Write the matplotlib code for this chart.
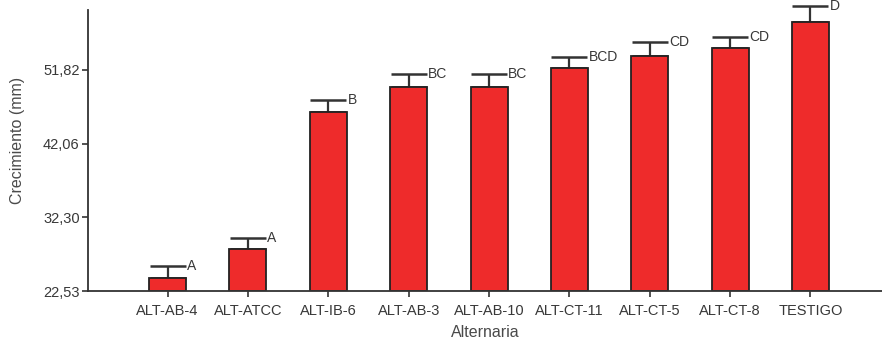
import numpy as np
import matplotlib
matplotlib.use('Agg')
from matplotlib import pyplot as plt

# Data
categories = ['ALT-AB-4', 'ALT-ATCC', 'ALT-IB-6', 'ALT-AB-3', 'ALT-AB-10',
              'ALT-CT-11', 'ALT-CT-5', 'ALT-CT-8', 'TESTIGO']
means = [24.21, 28.06, 46.29, 49.53, 49.53, 52.05, 53.68, 54.70, 58.14]
errors = [1.67, 1.45, 1.55, 1.76, 1.76, 1.53, 1.81, 1.53, 2.10]
groups = ['A', 'A', 'B', 'BC', 'BC', 'BCD', 'CD', 'CD', 'D']
yticks = [22.53, 32.30, 42.06, 51.82]
ytick_labels = ['22,53', '32,30', '42,06', '51,82']

plt.rcParams['font.family'] = ['Liberation Sans', 'DejaVu Sans']
text_color = '#383838'

fig = plt.figure(figsize=(8.82, 3.42), dpi=100)
ax = fig.add_axes([0.0998, 0.149, 0.9002, 0.822])

x = np.arange(len(categories))
base = yticks[0]
heights = [m - base for m in means]
ax.bar(x, heights, bottom=base, width=0.46, color='#ee2b2b',
       edgecolor='#222222', linewidth=1.3, zorder=2)

# only the upper half of the error bar
ax.errorbar(x, means, yerr=[np.zeros(len(means)), errors], fmt='none',
            ecolor='#333333', elinewidth=1.6, capsize=13, capthick=1.8,
            zorder=1, clip_on=False)

for xi, m, e, g in zip(x, means, errors, groups):
    ax.text(xi + 0.24, m + e, g, ha='left', va='center', fontsize=10,
            color=text_color, clip_on=False)

ax.set_xlim(-0.99, 8.89)
ax.set_ylim(base, 59.77)
ax.set_xticks(x)
ax.set_xticklabels(categories, fontsize=10.5)
ax.set_yticks(yticks)
ax.set_yticklabels(ytick_labels, fontsize=10.5)
ax.tick_params(axis='both', colors='#333333', length=4,
               width=1.2, labelcolor=text_color)
ax.tick_params(axis='x', pad=5)
ax.tick_params(axis='y', pad=2)

for side in ['top', 'right']:
    ax.spines[side].set_visible(False)
for side in ['left', 'bottom']:
    ax.spines[side].set_color('#333333')
    ax.spines[side].set_linewidth(1.3)

ax.set_xlabel('Alternaria', fontsize=11.5, color='#4a4a4a')
ax.xaxis.set_label_coords(0.5, -0.12)
ax.set_ylabel('Crecimiento (mm)', fontsize=11.5, color='#4a4a4a')
ax.yaxis.set_label_coords(-0.08, 0.534)

plt.savefig('out.png', dpi=100)
